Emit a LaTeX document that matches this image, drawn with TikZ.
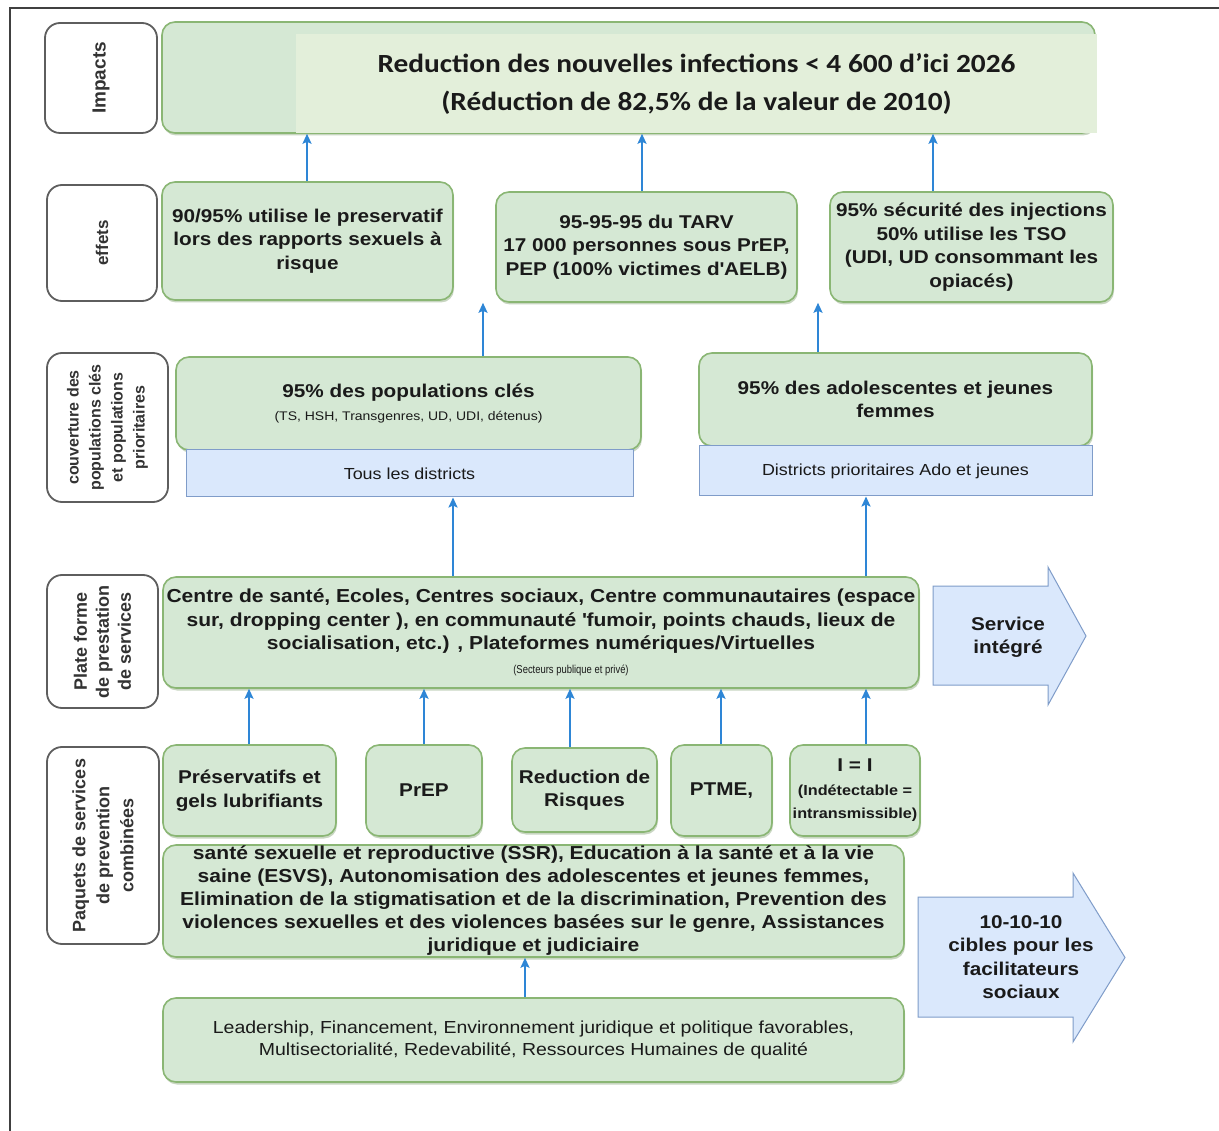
\documentclass[tikz,border=0pt]{standalone}
\usepackage{fontspec}
\setmainfont{Liberation Sans}[FakeStretch=1.12]
\newfontfamily\labf{Liberation Sans}
\newfontfamily\calib{Carlito}[FakeStretch=1.12]
\newfontfamily\narrowf{Liberation Sans}[FakeStretch=0.82]
\usetikzlibrary{arrows.meta,shadows}
\definecolor{gfill}{HTML}{D5E8D4}
\definecolor{gdraw}{HTML}{8AB674}
\definecolor{ifill}{HTML}{E3EFDA}
\definecolor{bfill}{HTML}{DAE8FC}
\definecolor{bdraw}{HTML}{7F9CC9}
\definecolor{ldraw}{HTML}{5E5E5E}
\definecolor{labtxt}{HTML}{333333}
\definecolor{txt}{HTML}{1A1A1A}
\definecolor{arrc}{HTML}{2E86D6}
\newcommand{\fsz}[2]{\fontsize{#1pt}{#2pt}\selectfont}
\tikzset{
  gbox/.style={draw=gdraw, fill=gfill, line width=1.6pt, rounded corners=13pt,
    align=center, text=txt, inner sep=0pt, font=\bfseries\fsz{18.5}{23.5},
    drop shadow={shadow xshift=1pt, shadow yshift=-2.5pt, fill=gdraw!70!gray, opacity=0.45}},
  lab/.style={draw=ldraw, fill=white, line width=1.8pt, rounded corners=15pt,
    align=center, text=labtxt, inner sep=0pt, rotate=90},
  strip/.style={draw=bdraw, fill=bfill, line width=1pt, align=center, inner sep=0pt,
    text=txt, font=\fsz{16}{18}},
  conn/.style={draw=arrc, line width=2pt, -{Stealth[length=10pt,width=9pt,inset=2pt]}},
  bigarrow/.style={draw=bdraw, fill=bfill, line width=1pt},
  arrtext/.style={align=center, text=txt, inner sep=0pt, font=\bfseries\fsz{18.5}{23.5}},
}
\begin{document}
\begin{tikzpicture}[x=1pt,y=-1pt]
\useasboundingbox (0,0) rectangle (1219,1131);
\fill[white] (0,0) rectangle (1219,1131);
% frame
\draw[line width=1.4pt, black!75] (10,1131) -- (10,8) -- (1219,8);

% left labels
\node[lab, minimum width=110pt, minimum height=112pt, font=\labf\bfseries\fsz{19}{23}] (limp) at (101,78) {Impacts};
\node[lab, minimum width=116pt, minimum height=110pt, font=\labf\bfseries\fsz{17}{22}] (leff) at (102,243) {effets};
\node[lab, minimum width=149pt, minimum height=121pt, font=\labf\bfseries\fsz{16}{22}] (lcov) at (107.5,427.5) {couverture des\\populations clés\\et populations\\prioritaires};
\node[lab, minimum width=133pt, minimum height=111pt, font=\labf\bfseries\fsz{18}{22}] (lplat) at (102.5,641.5) {Plate forme\\de prestation\\de services};
\node[lab, minimum width=197pt, minimum height=112pt, font=\labf\bfseries\fsz{18}{24}] (lpaq) at (103,845.5) {Paquets de services\\de prevention\\combinées};

% impacts
\node[gbox, minimum width=933pt, minimum height=111pt] (imp) at (628.5,77.5) {};
\node[fill=ifill, minimum width=801pt, minimum height=99pt, inner sep=0pt, align=center,
  text=txt, font=\calib\bfseries\fsz{26.2}{38}] (impt) at (696.5,83.5)
  {\raisebox{-2pt}{Reduction des nouvelles infections < 4 600 d’ici 2026}\\\raisebox{-2pt}{(Réduction de 82,5\% de la valeur de 2010)}};

% effets
\node[gbox, minimum width=291pt, minimum height=118pt] (e1) at (307.5,241)
  {90/95\% utilise le preservatif\\lors des rapports sexuels à\\risque};
\node[gbox, minimum width=301pt, minimum height=110pt] (e2) at (646.5,247)
  {95-95-95 du TARV\\17 000 personnes sous PrEP,\\PEP (100\% victimes d\textquotesingle AELB)};
\node[gbox, minimum width=283pt, minimum height=110pt] (e3) at (971.5,247)
  {95\% sécurité des injections\\50\% utilise les TSO\\(UDI, UD consommant les\\opiacés)};

% couverture
\node[gbox, minimum width=465pt, minimum height=93pt, font=\bfseries\fsz{18.5}{23}] (c1) at (408.5,403.5)
  {95\% des populations clés\\{\mdseries\fsz{12.5}{23}(TS, HSH, Transgenres, UD, UDI, détenus)}};
\node[strip, minimum width=447pt, minimum height=47pt] (s1) at (409.5,473.5) {Tous les districts};
\node[gbox, minimum width=393pt, minimum height=93pt] (c2) at (895.5,399.5)
  {95\% des adolescentes et jeunes\\femmes};
\node[strip, minimum width=393pt, minimum height=50pt] (s2) at (895.5,471) {Districts prioritaires Ado et jeunes};

% plate-forme
\node[gbox, minimum width=756pt, minimum height=111pt, font=\bfseries\fsz{18.8}{23.5}] (plat) at (541,632.5)
  {Centre de santé, Ecoles, Centres sociaux, Centre communautaires (espace\\
   sur, dropping center ), en communauté \textquotesingle fumoir, points chauds, lieux de\\
   socialisation, etc.) , Plateformes numériques/Virtuelles\\
   \hspace*{60pt}{\narrowf\mdseries\fsz{11.5}{23.5}(Secteurs publique et privé)}};

\path[bigarrow] (933,586) -- (1048,586) -- (1048,567) -- (1086,636) -- (1048,705) -- (1048,685) -- (933,685) -- cycle;
\node[arrtext] (svc) at (1008,637.5) {Service\\intégré};

% paquets
\node[gbox, minimum width=173pt, minimum height=91pt] (p1) at (249.5,790.5) {Préservatifs et\\gels lubrifiants};
\node[gbox, minimum width=116pt, minimum height=91pt] (p2) at (424,790.5) {PrEP};
\node[gbox, minimum width=145pt, minimum height=84pt] (p3) at (584.5,790) {Reduction de\\Risques};
\node[gbox, minimum width=101pt, minimum height=91pt] (p4) at (721.5,790.5) {PTME,};
\node[gbox, minimum width=130pt, minimum height=91pt] (p5) at (855,790.5)
  {I = I\\{\fsz{14.5}{24}(Indétectable =}\\{\fsz{14.5}{24}intransmissible)}};

\node[gbox, minimum width=741pt, minimum height=112pt, font=\bfseries\fsz{18.8}{23}] (ssr) at (533.5,901)
  {\raisebox{-2pt}{santé sexuelle et reproductive (SSR), Education à la santé et à la vie}\\
   \raisebox{-2pt}{saine (ESVS), Autonomisation des adolescentes et jeunes femmes,}\\
   \raisebox{-2pt}{Elimination de la stigmatisation et de la discrimination, Prevention des}\\
   \raisebox{-2pt}{violences sexuelles et des violences basées sur le genre, Assistances}\\
   \raisebox{-2pt}{juridique et judiciaire}};

\node[gbox, minimum width=741pt, minimum height=84pt, font=\mdseries\fsz{17.4}{22}] (base) at (533.5,1040)
  {\raisebox{-2pt}{Leadership, Financement, Environnement juridique et politique favorables,}\\
   \raisebox{-2pt}{Multisectorialité, Redevabilité, Ressources Humaines de qualité}};

\path[bigarrow] (918,897) -- (1073,897) -- (1073,873) -- (1125,957.5) -- (1073,1042) -- (1073,1017) -- (918,1017) -- cycle;
\node[arrtext] (ten) at (1021,957) {10-10-10\\cibles pour les\\facilitateurs\\sociaux};

% connectors
\draw[conn] ([xshift=-0.5pt]e1.north) -- ([xshift=-0.5pt]e1.north |- imp.south);
\draw[conn] ([xshift=-4.5pt]e2.north) -- ([xshift=-4.5pt]e2.north |- imp.south);
\draw[conn] ([xshift=-38.5pt]e3.north) -- ([xshift=-38.5pt]e3.north |- imp.south);
\draw[conn] ([xshift=74.5pt]c1.north) -- ([xshift=74.5pt]c1.north |- e2.south);
\draw[conn] ([xshift=-77.5pt]c2.north) -- ([xshift=-77.5pt]c2.north |- e3.south);
\draw[conn] ([xshift=-88pt]plat.north) -- ([xshift=-88pt]plat.north |- s1.south);
\draw[conn] ([xshift=325pt]plat.north) -- ([xshift=325pt]plat.north |- s2.south);
\draw[conn] ([xshift=-0.5pt]p1.north) -- ([xshift=-0.5pt]p1.north |- plat.south);
\draw[conn] (p2.north) -- (p2.north |- plat.south);
\draw[conn] ([xshift=-14.5pt]p3.north) -- ([xshift=-14.5pt]p3.north |- plat.south);
\draw[conn] ([xshift=-0.5pt]p4.north) -- ([xshift=-0.5pt]p4.north |- plat.south);
\draw[conn] ([xshift=11pt]p5.north) -- ([xshift=11pt]p5.north |- plat.south);
\draw[conn] ([xshift=-8.5pt]base.north) -- ([xshift=-8.5pt]base.north |- ssr.south);
\end{tikzpicture}
\end{document}
